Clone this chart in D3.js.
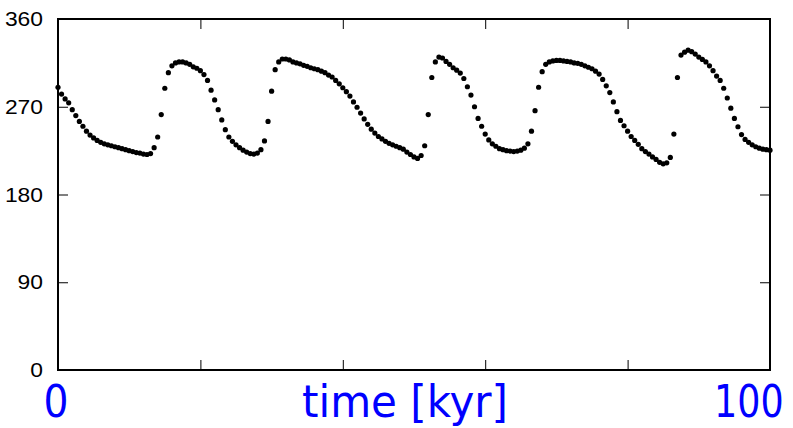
<!doctype html>
<html lang="en">
<head>
<meta charset="utf-8">
<title>time series</title>
<style>
  body { margin: 0; background: #fff; }
  .frame { fill: none; stroke: #000; stroke-width: 2px; }
  .axis .domain { display: none; }
  .axis line { stroke: #000; stroke-width: 1px; }
  .ylab text { font-family: "Liberation Sans", Arial, sans-serif; font-size: 20px; fill: #000; }
  .blue { font-family: "DejaVu Sans", Verdana, sans-serif; font-size: 44px; fill: #0000ff; }
</style>
</head>
<body>
<svg width="793" height="428"></svg>
<script src="https://d3js.org/d3.v7.min.js"></script>
<script>
// one sample every 0.5 kyr, from 0 to 100 kyr
var dt = 0.5;
var values = [
  290, 283, 278, 274, 267, 261, 255, 250, 245, 241,
  238, 235.5, 233.5, 232, 231, 230, 229, 228, 227, 226,
  225, 224, 223, 222.5, 221.5, 221, 222, 228, 239, 262,
  289, 305, 312, 315, 316, 316, 315, 313.5, 311, 309.5,
  307, 303, 297, 287, 277, 267, 256.5, 246.5, 239, 234.5,
  231, 228, 225.5, 223.5, 222, 221.5, 222.5, 226, 235, 255,
  286, 308, 316, 319, 319, 318, 316, 315, 314, 312.5,
  311.5, 310, 309, 308, 306.5, 305, 302.5, 300.5, 297, 293.5,
  289.5, 285.5, 281, 275, 269.5, 263.5, 257.5, 252, 247, 243,
  239.5, 237, 234.5, 232.5, 231, 229.5, 228, 226.5, 223.5, 221,
  218.5, 217, 220, 230, 262, 300, 316, 321, 320, 316.5,
  313.5, 310, 307.5, 304.5, 299, 290.5, 282, 270, 258, 250,
  242, 236, 232, 229.5, 227, 226, 225, 224.5, 224, 224.5,
  225.5, 227.5, 232, 245, 266, 290, 306, 313.5, 316, 317,
  317.5, 317.5, 317, 316.5, 316, 315, 314.5, 313.5, 312, 310.5,
  309, 306.5, 303.5, 298, 291.5, 284.5, 275, 265, 256, 250.5,
  245, 239.5, 235.5, 231.5, 227, 224, 221.5, 218.5, 216, 213,
  211.5, 212.5, 218, 242, 300, 323, 326, 328, 326.5, 324,
  321, 318.5, 316, 312, 307, 301.5, 297, 289, 279, 268.5,
  258, 249.5, 241.5, 236.5, 233.5, 231, 229, 227.5, 226.5, 226,
  225.5
];
var xTicks = [0, 20, 40, 60, 80, 100];
var yTicks = [0, 90, 180, 270, 360];
var xLabels = ["0", "100"];
var xTitle = "time [kyr]";

var svg = d3.select("svg"),
    margin = {top: 19, right: 23, bottom: 58, left: 58},
    width = +svg.attr("width") - margin.left - margin.right,
    height = +svg.attr("height") - margin.top - margin.bottom,
    g = svg.append("g").attr("transform", "translate(" + margin.left + "," + margin.top + ")");

var x = d3.scaleLinear().domain([0, 100]).range([0, width]);
var y = d3.scaleLinear().domain([0, 360]).range([height, 0]);

// inward ticks on all four sides
g.append("g").attr("class", "axis")
    .attr("transform", "translate(0," + height + ")")
    .call(d3.axisBottom(x).tickValues(xTicks).tickSize(-10).tickFormat(""));
g.append("g").attr("class", "axis")
    .call(d3.axisTop(x).tickValues(xTicks).tickSize(-10).tickFormat(""));
g.append("g").attr("class", "axis")
    .call(d3.axisLeft(y).tickValues(yTicks).tickSize(-10).tickFormat(""));
g.append("g").attr("class", "axis")
    .attr("transform", "translate(" + width + ",0)")
    .call(d3.axisRight(y).tickValues(yTicks).tickSize(-10).tickFormat(""));

// y labels (the source font is wide, stretch them a bit)
g.append("g").attr("class", "ylab")
  .selectAll("text")
  .data(yTicks)
  .enter().append("text")
    .attr("x", -15)
    .attr("y", function(d) { return y(d); })
    .attr("dy", "0.36em")
    .attr("text-anchor", "end")
    .attr("textLength", function(d) { return String(d).length * 12.7; })
    .attr("lengthAdjust", "spacingAndGlyphs")
    .text(function(d) { return d; });

g.append("rect").attr("class", "frame")
    .attr("width", width)
    .attr("height", height);

// data points
g.append("g")
  .selectAll("circle")
  .data(values)
  .enter().append("circle")
    .attr("cx", function(d, i) { return x(i * dt); })
    .attr("cy", function(d) { return y(d); })
    .attr("r", 2.6)
    .attr("fill", "#000");

// big blue x labels
svg.append("text").attr("class", "blue")
    .attr("x", margin.left + x(0) - 2)
    .attr("y", 416.5)
    .attr("text-anchor", "middle")
    .attr("textLength", 25)
    .attr("lengthAdjust", "spacingAndGlyphs")
    .text(xLabels[0]);

// squeeze "100" with a transform so it stays inside the page
svg.append("text").attr("class", "blue")
    .attr("transform", "translate(714,416.5) scale(0.83,1)")
    .text(xLabels[1]);

svg.append("text").attr("class", "blue")
    .attr("x", 302)
    .attr("y", 416.5)
    .attr("textLength", 206)
    .attr("lengthAdjust", "spacingAndGlyphs")
    .text(xTitle);
</script>
</body>
</html>
